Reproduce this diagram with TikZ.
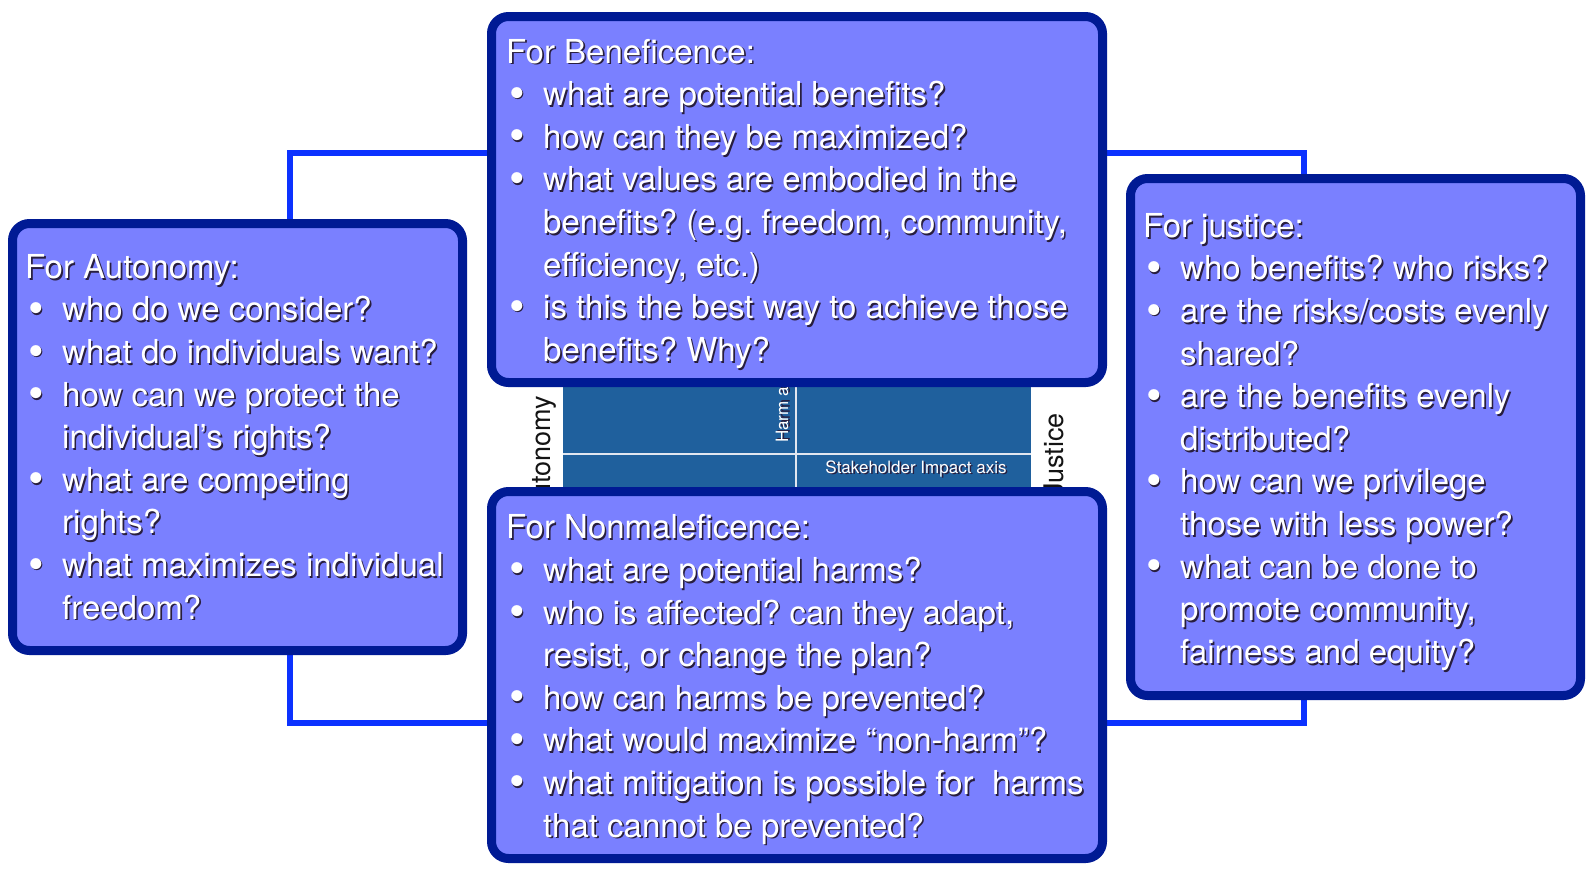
\documentclass[tikz,border=0pt]{standalone}
\usepackage{fontspec}
\setmainfont{TeX Gyre Heros}
\usepackage{graphicx}
\frenchspacing

\definecolor{boxfill}{RGB}{122,128,255}
\definecolor{boxedge}{RGB}{0,26,148}
\definecolor{linkblue}{RGB}{12,50,255}
\definecolor{gridblue}{RGB}{31,96,157}
\definecolor{gridline}{RGB}{225,230,240}
\definecolor{shadowc}{RGB}{40,30,62}
\definecolor{labeldark}{RGB}{20,20,20}

% white text with a dark drop shadow
\newcommand\shd[1]{\leavevmode\rlap{\kern1.6pt\raisebox{-1.8pt}{\textcolor{shadowc}{#1}}}#1}
\newcommand\headline[1]{\hbox{\shd{#1}}}
\newcommand\bulline[1]{\hbox{\makebox[37pt][l]{\kern3pt\shd{\raisebox{-2.5pt}{\scalebox{1.35}{\textbullet}}}}\shd{#1}}}
\newcommand\contline[1]{\hbox{\kern37pt\shd{#1}}}

\tikzset{
  qbox/.style={draw=boxedge, fill=boxfill, line width=9pt, rounded corners=17pt,
    inner sep=0pt, outer sep=0pt, anchor=north west},
  link/.style={draw=linkblue, line width=6.5pt},
  qtext/.style={text=white, inner sep=0pt, anchor=base west,
    font=\fontsize{33}{42.6}\selectfont},
  sidelabel/.style={text=labeldark, inner sep=0pt, rotate=90,
    font=\fontsize{27}{30}\selectfont},
  axislabel/.style={text=white, inner sep=0pt},
}

\begin{document}
\begin{tikzpicture}[x=1pt, y=-1pt]
  \useasboundingbox (0,0) rectangle (1594,876);
  \fill[white] (0,0) rectangle (1594,876);

  % principle matrix behind the boxes
  \node[sidelabel] (autlab) at (543.5,456) {Autonomy};
  \node[sidelabel] (juslab) at (1053.5,455) {Justice};
  \fill[gridblue] (563,372) rectangle (1031,500);
  \draw[gridline, line width=1.3pt] (563,454) -- (1031,454);
  \draw[gridline, line width=1.3pt] (796,372) -- (796,500);
  \node[axislabel, rotate=90, anchor=base west, font=\fontsize{17}{20}\selectfont]
    (harm) at (788,443) {\shd{Harm axis}};
  \node[axislabel, font=\fontsize{17}{20}\selectfont] (stake) at (916,469.5)
    {\shd{Stakeholder Impact axis}};

  % corner points of the connectors
  \coordinate (tl) at (290,153);
  \coordinate (tr) at (1304,153);
  \coordinate (bl) at (290,723);
  \coordinate (br) at (1304,723);

  % box outlines (placed first so the connectors can refer to them)
  \path node[qbox, draw=none, fill=none, minimum width=450pt, minimum height=427pt] (aut) at (12.5,223.5) {}
    node[qbox, draw=none, fill=none, minimum width=611pt, minimum height=366pt] (ben) at (491.5,16.5) {}
    node[qbox, draw=none, fill=none, minimum width=450pt, minimum height=517pt] (jus) at (1130.5,178.5) {}
    node[qbox, draw=none, fill=none, minimum width=611pt, minimum height=367pt] (non) at (491.5,491.5) {};

  % connectors
  \draw[link] (aut.north -| tl) |- (ben.west |- tl);
  \draw[link] (ben.east |- tr) -| (jus.north -| tr);
  \draw[link] (aut.south -| bl) |- (non.west |- bl);
  \draw[link] (jus.south -| br) |- (non.east |- br);

  % visible box frames
  \draw[qbox] (aut.north west) rectangle (aut.south east);
  \draw[qbox] (ben.north west) rectangle (ben.south east);
  \draw[qbox] (jus.north west) rectangle (jus.south east);
  \draw[qbox] (non.north west) rectangle (non.south east);

  % box contents
  \node[qtext] (bentxt) at (506,63) {\vtop{%
    \headline{For Beneficence:}
    \bulline{what are potential benefits?}
    \bulline{how can they be maximized?}
    \bulline{what values are embodied in the}
    \contline{benefits? (e.g. freedom, community,}
    \contline{efficiency, etc.)}
    \bulline{is this the best way to achieve those}
    \contline{benefits? Why?}}};

  \node[qtext] (auttxt) at (25,278.3) {\vtop{%
    \headline{For Autonomy:}
    \bulline{who do we consider?}
    \bulline{what do individuals want?}
    \bulline{how can we protect the}
    \contline{individual’s rights?}
    \bulline{what are competing}
    \contline{rights?}
    \bulline{what maximizes individual}
    \contline{freedom?}}};

  \node[qtext] (justxt) at (1143,237.3) {\vtop{%
    \headline{For justice:}
    \bulline{who benefits? who risks?}
    \bulline{are the risks/costs evenly}
    \contline{shared?}
    \bulline{are the benefits evenly}
    \contline{distributed?}
    \bulline{how can we privilege}
    \contline{those with less power?}
    \bulline{what can be done to}
    \contline{promote community,}
    \contline{fairness and equity?}}};

  \node[qtext] (nontxt) at (506,538.8) {\vtop{%
    \headline{For Nonmaleficence:}
    \bulline{what are potential harms?}
    \bulline{who is affected? can they adapt,}
    \contline{resist, or change the plan?}
    \bulline{how can harms be prevented?}
    \bulline{what would maximize “non-harm”?}
    \bulline{what mitigation is possible for\ \ harms}
    \contline{that cannot be prevented?}}};
\end{tikzpicture}
\end{document}
